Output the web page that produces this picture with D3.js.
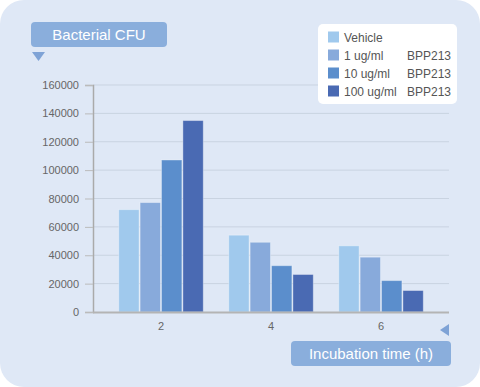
<!DOCTYPE html>
<html><head><meta charset="utf-8">
<script src="https://cdn.jsdelivr.net/npm/d3@7"></script>
<style>html,body{margin:0;padding:0;background:#fff;}svg{display:block;}</style>
</head><body>
<script>
const categories = ["2", "4", "6"];
const seriesNames = ["Vehicle", "1 ug/ml", "10 ug/ml", "100 ug/ml"];
const seriesSuffix = ["", "BPP213", "BPP213", "BPP213"];
const vehicle = [72500, 54500, 47000];
const ug1 = [77500, 49500, 39000];
const ug10 = [107500, 33000, 22500];
const ug100 = [135300, 26800, 15500];
const yTicks = [0, 20000, 40000, 60000, 80000, 100000, 120000, 140000, 160000];
const colors = ["#a0c9ed", "#88aadb", "#5b8ecc", "#4a6ab3"];
const series = [vehicle, ug1, ug10, ug100];

(function () {
const W = 480, H = 387;
const svg = d3.select("body").append("svg").attr("width", W).attr("height", H);
const font = "'Liberation Sans', Arial, sans-serif";

svg.append("rect").attr("x", 0).attr("y", 0).attr("width", W).attr("height", H)
  .attr("rx", 24).attr("fill", "#dfe8f6");

const pL = 93, pR = 449, pT = 85, pB = 312;
const y = d3.scaleLinear().domain([0, 160000]).range([pB, pT]);
const x = d3.scaleBand().domain(categories).range([pL, pR]).paddingInner(0.222).paddingOuter(0.229);
const xs = d3.scaleBand().domain(d3.range(4)).range([0, x.bandwidth()]);

// grid
svg.append("g").selectAll("line").data(yTicks.filter(d => d > 0)).join("line")
  .attr("x1", pL).attr("x2", pR).attr("y1", d => y(d)).attr("y2", d => y(d))
  .attr("stroke", "#c9d3e1").attr("stroke-width", 1);

// y axis
const yAxis = d3.axisLeft(y).tickValues(yTicks).tickSize(8).tickPadding(6).tickFormat(d3.format("d"));
const gy = svg.append("g").attr("transform", `translate(${pL},0)`).call(yAxis);
gy.select(".domain").attr("stroke", "#aaaaaa").attr("stroke-width", 1.5);
gy.selectAll(".tick line").attr("stroke", "#bbbbbb");
gy.selectAll("text").attr("fill", "#666").attr("font-size", 11).attr("font-family", font);

// bars
const g = svg.append("g");
categories.forEach((c, i) => {
  series.forEach((s, j) => {
    g.append("rect")
      .attr("x", x(c) + xs(j) + 0.5).attr("y", y(s[i]) + 0.5)
      .attr("width", xs.bandwidth() - 1).attr("height", pB - y(s[i]) - 0.5)
      .attr("fill", colors[j]).attr("stroke", "rgba(255,255,255,0.35)").attr("stroke-width", 1);
  });
});

// x axis
const xAxis = d3.axisBottom(x).tickSize(0).tickPadding(10);
const gx = svg.append("g").attr("transform", `translate(0,${pB})`).call(xAxis);
gx.select(".domain").remove();
gx.selectAll("text").attr("fill", "#666").attr("font-size", 11).attr("font-family", font);
svg.append("line").attr("x1", pL).attr("x2", pR).attr("y1", pB + 0.5).attr("y2", pB + 0.5)
  .attr("stroke", "#b4b4b4").attr("stroke-width", 2);

// y title box
svg.append("rect").attr("x", 31).attr("y", 22).attr("width", 136).attr("height", 25).attr("rx", 4)
  .attr("fill", "#8aaedc");
svg.append("text").attr("x", 99).attr("y", 40).attr("text-anchor", "middle").attr("fill", "#fff")
  .attr("font-size", 15).attr("font-family", font).text("Bacterial CFU");
svg.append("path").attr("d", "M32,52 L45,52 L38.5,61 Z").attr("fill", "#7fa3d6");

// x title box
svg.append("rect").attr("x", 291).attr("y", 341).attr("width", 160).attr("height", 25).attr("rx", 4)
  .attr("fill", "#8aaedc");
svg.append("text").attr("x", 371).attr("y", 359).attr("text-anchor", "middle").attr("fill", "#fff")
  .attr("font-size", 15).attr("font-family", font).text("Incubation time (h)");
svg.append("path").attr("d", "M449,324 L449,336 L440,330 Z").attr("fill", "#7fa3d6");

// legend
const lg = svg.append("g");
lg.append("rect").attr("x", 318).attr("y", 24).attr("width", 139).attr("height", 80).attr("rx", 5).attr("fill", "#fff");
seriesNames.forEach((n, j) => {
  const cy = 37 + j * 18;
  lg.append("rect").attr("x", 328).attr("y", cy - 5.5).attr("width", 11).attr("height", 11).attr("fill", colors[j]);
  lg.append("text").attr("x", 344).attr("y", cy + 4.5).attr("fill", "#555").attr("font-size", 12)
    .attr("font-family", font).text(n);
  if (seriesSuffix[j]) lg.append("text").attr("x", 407).attr("y", cy + 4.5).attr("fill", "#555").attr("font-size", 12)
    .attr("font-family", font).text(seriesSuffix[j]);
});
})();
</script>
</body></html>
